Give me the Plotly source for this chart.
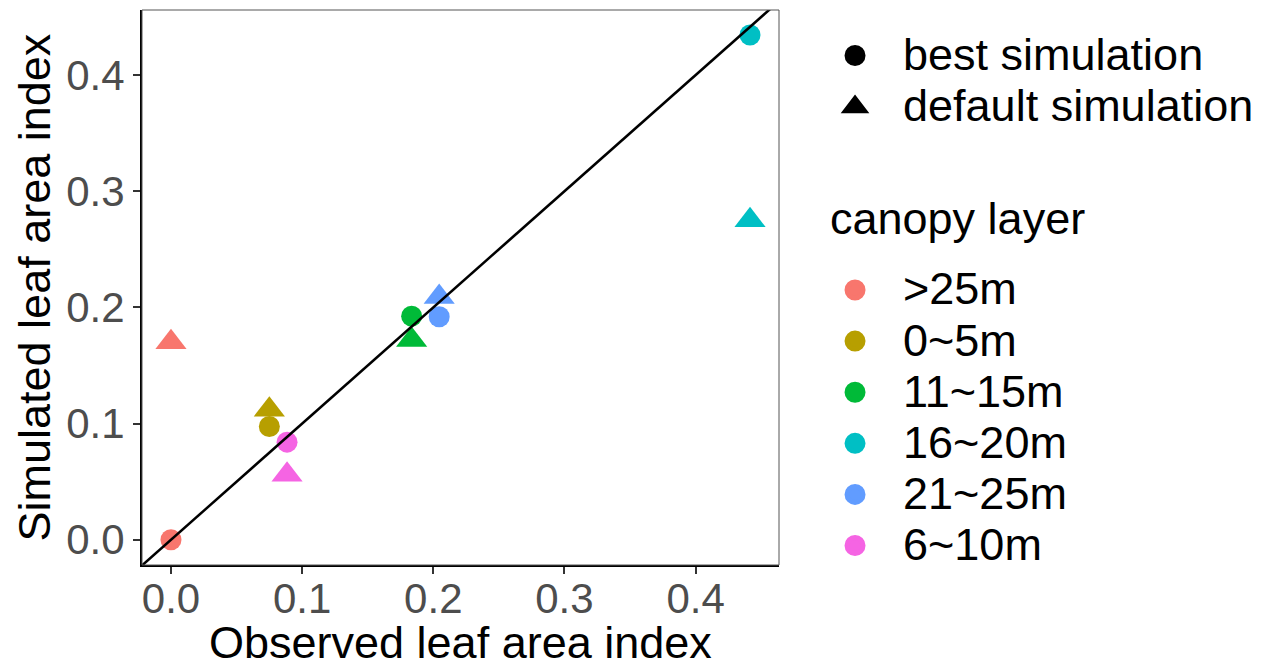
import plotly.graph_objects as go

# ---- data ----
layers = [">25m", "0~5m", "11~15m", "16~20m", "21~25m", "6~10m"]
layer_colors = ["#F8766D", "#B79F00", "#00BA38", "#00BFC4", "#619CFF", "#F564E3"]
observed = [0.0, 0.075, 0.1835, 0.4415, 0.2045, 0.0885]
best_sim = [0.0, 0.0975, 0.1925, 0.4345, 0.192, 0.084]
default_sim = [0.170, 0.112, 0.172, 0.275, 0.209, 0.056]
sim_types = ["best simulation", "default simulation"]
legend_title = "canopy layer"
x_title = "Observed leaf area index"
y_title = "Simulated leaf area index"
x_ticks = [0.0, 0.1, 0.2, 0.3, 0.4]
y_ticks = [0.0, 0.1, 0.2, 0.3, 0.4]
x_range = [-0.0221, 0.4636]
y_range = [-0.0217, 0.456]

FONT = "Liberation Sans, Arial, sans-serif"
TXT = 45

fig = go.Figure()

# data points
for i, lay in enumerate(layers):
    fig.add_trace(go.Scatter(
        x=[observed[i]], y=[default_sim[i]], mode="markers",
        marker=dict(symbol="triangle-up", size=27, color=layer_colors[i]),
        showlegend=False, hoverinfo="skip"))
for i, lay in enumerate(layers):
    fig.add_trace(go.Scatter(
        x=[observed[i]], y=[best_sim[i]], mode="markers",
        marker=dict(symbol="circle", size=21, color=layer_colors[i]),
        showlegend=False, hoverinfo="skip"))

# 1:1 line
fig.add_trace(go.Scatter(x=[-1, 1], y=[-1, 1], mode="lines",
                         line=dict(color="black", width=2.5),
                         showlegend=False, hoverinfo="skip"))

def lab(s):
    return '<span style="font-size:%dpx">%s</span>' % (TXT, s)

# legend 1: shapes
for name, sym in zip(sim_types, ["circle", "triangle-up"]):
    fig.add_trace(go.Scatter(
        x=[None], y=[None], mode="markers", name=lab(name),
        marker=dict(symbol=sym, size=16, color="black",
                    line=dict(color="black", width=5)),
        legend="legend"))

# legend 2: canopy layer colours
for lay, col in zip(layers, layer_colors):
    fig.add_trace(go.Scatter(
        x=[None], y=[None], mode="markers", name=lab(lay),
        marker=dict(symbol="circle", size=16, color=col,
                    line=dict(color=col, width=5)),
        legend="legend2"))

axis_common = dict(
    showgrid=False, zeroline=False, showline=True, linecolor="black",
    linewidth=2, ticks="outside", ticklen=7, tickwidth=2, tickcolor="#333333",
    tickfont=dict(family=FONT, size=42, color="#4D4D4D"),
    automargin=False,
)

fig.update_xaxes(range=x_range, tickvals=x_ticks,
                 ticktext=["%.1f" % v for v in x_ticks],
                 ticklabelstandoff=-11, **axis_common)
fig.update_yaxes(range=y_range, tickvals=y_ticks,
                 ticktext=["%.1f" % v for v in y_ticks],
                 ticklabelstandoff=0, **axis_common)

# page body has an 8px margin: size/margins compensate so the plot sits at the
# same place as in the 1267x668 reference
fig.update_layout(
    width=1259, height=660,
    margin=dict(l=134, r=488, t=2, b=103),
    plot_bgcolor="white", paper_bgcolor="white",
    font=dict(family=FONT, color="black"),
    shapes=[dict(type="rect", xref="paper", yref="paper", x0=0, y0=0, x1=1, y1=1,
                 line=dict(color="#555555", width=1), layer="above")],
    annotations=[
        dict(text=legend_title, xref="paper", yref="paper",
             x=1.077, y=0.6252, xanchor="left", yanchor="middle",
             showarrow=False, font=dict(family=FONT, size=TXT, color="black")),
        dict(text=x_title, xref="paper", yref="paper",
             x=0.5, y=-0.1405, xanchor="center", yanchor="middle",
             showarrow=False, font=dict(family=FONT, size=TXT, color="black")),
        dict(text=y_title, xref="paper", yref="paper", textangle=-90,
             x=-0.1680, y=0.5, xanchor="center", yanchor="middle",
             showarrow=False, font=dict(family=FONT, size=TXT, color="black")),
    ],
    legend=dict(x=1.044, y=0.973, xanchor="left", yanchor="top",
                font=dict(family=FONT, size=37, color="black"),
                itemwidth=86, bgcolor="rgba(0,0,0,0)", borderwidth=0,
                itemclick=False, itemdoubleclick=False),
    legend2=dict(x=1.044, y=0.5505, xanchor="left", yanchor="top",
                 font=dict(family=FONT, size=37, color="black"),
                 itemwidth=86, bgcolor="rgba(0,0,0,0)", borderwidth=0,
                 itemclick=False, itemdoubleclick=False),
)

fig.write_html("out.html")
